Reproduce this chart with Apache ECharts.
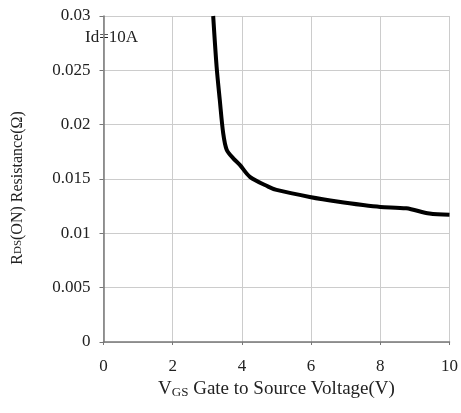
<!DOCTYPE html>
<html>
<head>
<meta charset="utf-8">
<script src="https://cdn.jsdelivr.net/npm/echarts@6/dist/echarts.min.js"></script>
<style>html,body{margin:0;padding:0;background:#fff}#c{width:461px;height:413px}</style>
</head>
<body>
<div id="c"></div>
<script>
const vgs = [3.17, 3.27, 3.36, 3.46, 3.56, 3.75, 3.94, 4.23, 4.76, 5.0, 5.96, 6.8, 7.5, 8.0, 8.75, 9.42, 10.0];
const rdson = [0.0300, 0.0253, 0.0223, 0.0192, 0.0177, 0.0169, 0.0163, 0.0152, 0.0143, 0.0140, 0.01335, 0.0129, 0.0126, 0.01243, 0.0123, 0.01182, 0.0117];
const xTicks = [0, 2, 4, 6, 8, 10];
const yTicks = ['0', '0.005', '0.01', '0.015', '0.02', '0.025', '0.03'];
const annotation = 'Id=10A';

const font = 'Liberation Serif';
const chart = echarts.init(document.getElementById('c'), null, {renderer: 'canvas'});
chart.setOption({
  animation: false,
  backgroundColor: '#fff',
  grid: {left: 103.5, right: 11, top: 16, bottom: 71},
  xAxis: {
    type: 'value', min: xTicks[0], max: xTicks[xTicks.length - 1], interval: 2,
    name: '{b|V}{s|GS}{b| Gate to Source Voltage(V)}',
    nameLocation: 'middle', nameGap: 38,
    nameTextStyle: {rich: {
      b: {fontFamily: font, fontSize: 19, color: '#222'},
      s: {fontFamily: font, fontSize: 13, color: '#222', verticalAlign: 'bottom', padding: [5, 0, 0, 0]}
    }},
    axisLine: {show: true, lineStyle: {color: '#777', width: 1.5}},
    axisTick: {show: true, length: 3, lineStyle: {color: '#777'}},
    axisLabel: {fontFamily: font, fontSize: 17, color: '#222', margin: 16},
    splitLine: {show: true, lineStyle: {color: '#ccc', width: 1}}
  },
  yAxis: {
    type: 'value', min: 0, max: 0.03, interval: 0.005,
    axisLine: {show: true, lineStyle: {color: '#777', width: 1.5}},
    axisTick: {show: true, length: 4, lineStyle: {color: '#777'}},
    axisLabel: {fontFamily: font, fontSize: 17, color: '#222', margin: 13,
      formatter: (v) => { const i = Math.round(v / 0.005); return yTicks[i]; }},
    splitLine: {show: true, lineStyle: {color: '#ccc', width: 1}}
  },
  graphic: [{
    type: 'text', left: 84, top: 28,
    style: {text: annotation, fontFamily: font, fontSize: 17, fill: '#222',
      backgroundColor: '#fff', padding: [1, 1]}
  }, {
    type: 'text', x: 18, y: 188, rotation: Math.PI / 2,
    style: {
      text: '{b|R}{s|DS}{b|(ON) Resistance(Ω)}',
      align: 'center', verticalAlign: 'middle',
      rich: {
        b: {fontFamily: font, fontSize: 16, fill: '#222'},
        s: {fontFamily: font, fontSize: 11, fill: '#222'}
      }
    }
  }],
  series: [{
    type: 'line',
    data: vgs.map((v, i) => [v, rdson[i]]),
    smooth: 0.3,
    showSymbol: false,
    lineStyle: {color: '#000', width: 4},
    clip: false
  }]
});
</script>
</body>
</html>
